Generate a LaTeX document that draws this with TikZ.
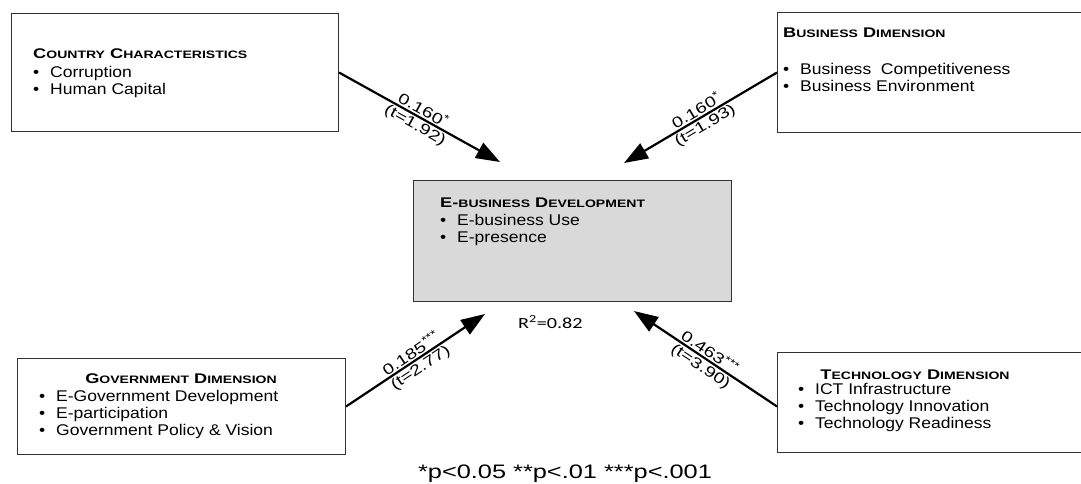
\documentclass[tikz,border=0pt]{standalone}
\usepackage{fontspec}
\setmainfont[FakeStretch=1.13]{Liberation Sans}
\newfontfamily\headfont[FakeStretch=1.3]{Liberation Sans}
\newfontfamily\lblfont[FakeStretch=1.3]{Liberation Sans}
\newfontfamily\rsqfont[FakeStretch=1.3]{Carlito}
\usetikzlibrary{positioning,arrows.meta}

% heading in small capitals: big initial, smaller rest
\newcommand{\hcap}[2]{{\fontsize{14}{16}\selectfont #1}{\fontsize{10.8}{16}\selectfont\MakeUppercase{#2}}}
\newcommand{\itm}{\makebox[17pt][l]{\textbullet}}

\begin{document}
\begin{tikzpicture}[x=1pt,y=-1pt,
  box/.style={draw=black!80,line width=1pt,inner sep=0pt,anchor=north west},
  head/.style={font=\headfont\bfseries\fontsize{14}{16}\selectfont,inner sep=0pt},
  items/.style={font=\fontsize{15.5}{17}\selectfont,align=left,inner sep=0pt},
  lbl/.style={font=\lblfont\fontsize{15}{16}\selectfont,inner sep=1.5pt},
  arr/.style={line width=2.2pt,-{Triangle[length=24pt,width=17pt]}}
]
\useasboundingbox (0,0) rectangle (1081,484);

% Boxes
\node[box,minimum width=327pt,minimum height=118pt] (country) at (11,13) {};
\node[box,minimum width=320pt,minimum height=120pt] (business) at (777,12) {};
\node[box,fill=black!15,minimum width=318pt,minimum height=121pt] (ebiz) at (413,180) {};
\node[box,minimum width=328pt,minimum height=96pt] (gov) at (17,358) {};
\node[box,minimum width=320pt,minimum height=100pt] (tech) at (777,352) {};

% Country characteristics
\node[head,anchor=base west] (countryhead) at (33,59) {\hcap{C}{ountry} \hcap{C}{haracteristics}};
\node[items,below=7pt of countryhead.south west,anchor=north west] (countrylist) {\itm Corruption\\\itm Human Capital};

% Business dimension
\node[head,anchor=base west] (businesshead) at (783,38) {\hcap{B}{usiness} \hcap{D}{imension}};
\node[items,below=25pt of businesshead.south west,anchor=north west] (businesslist) {\itm Business\ \ Competitiveness\\\itm Business Environment};

% E-business development
\node[head,anchor=base west] (ebizhead) at (440,207) {\hcap{E-}{business} \hcap{D}{evelopment}};
\node[items,below=6.5pt of ebizhead.south west,anchor=north west] (ebizlist) {\itm E-business Use\\\itm E-presence};

% Government dimension
\node[head,anchor=base] (govhead) at (181,383) {\hcap{G}{overnment} \hcap{D}{imension}};
\node[items,anchor=north west] (govlist) at (39,390.5) {\itm E-Government Development\\\itm E-participation\\\itm Government Policy \& Vision};

% Technology dimension
\node[head,anchor=base] (techhead) at (915,379) {\hcap{T}{echnology} \hcap{D}{imension}};
\node[items,anchor=north west] (techlist) at (798,383.5) {\itm ICT Infrastructure\\\itm Technology Innovation\\\itm Technology Readiness};

% Arrow tips near the centre box
\coordinate (tipcountry) at ([shift={(87pt,18pt)}]ebiz.north west);
\coordinate (tipbusiness) at ([shift={(-108pt,17pt)}]ebiz.north east);
\coordinate (tipgov) at ([shift={(72pt,-12pt)}]ebiz.south west);
\coordinate (tiptech) at ([shift={(-98pt,-9pt)}]ebiz.south east);

% Paths
\draw[arr] (country.east) -- node[lbl,above,sloped]{0.160\textsuperscript{*}} node[lbl,below,sloped]{(t=1.92)} (tipcountry);
\draw[arr] (business.west) -- node[lbl,above,sloped]{0.160\textsuperscript{*}} node[lbl,below,sloped]{(t=1.93)} (tipbusiness);
\draw[arr] (gov.east) -- node[lbl,above,sloped]{0.185\textsuperscript{***}} node[lbl,below,sloped]{(t=2.77)} (tipgov);
\draw[arr] ([yshift=-4pt]tech.west) -- node[lbl,above,sloped]{0.463\textsuperscript{***}} node[lbl,below,sloped]{(t=3.90)} (tiptech);

% R squared and significance note
\node[font=\rsqfont\fontsize{15.5}{16}\selectfont,anchor=base west,inner sep=0pt] (rsq) at (518,328) {R\textsuperscript{2}=0.82};
\node[font=\lblfont\fontsize{19.5}{20}\selectfont,anchor=base,inner sep=0pt] (note) at (565,478) {*p<0.05 **p<.01 ***p<.001};
\end{tikzpicture}
\end{document}
